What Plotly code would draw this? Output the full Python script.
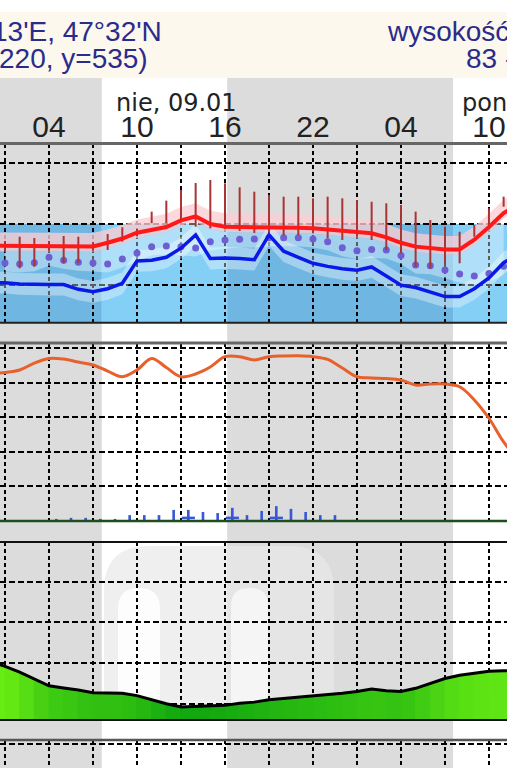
import plotly.graph_objects as go

W, H = 507, 768

def py(px):
    """pixel row -> paper fraction"""
    return 1 - px / H

def px_x(px):
    return px / W

# ---------------- data ----------------
# time axis: hours since 2022-01-09 00:00 (nie, 09.01)
x_range = [0.659, 35.23]
grid_hours = [1, 4, 7, 10, 13, 16, 19, 22, 25, 28, 31, 34]
tick_text = ['', '04', '', '10', '', '16', '', '22', '', '04', '', '10']
sunrise = [7.6, 31.55]
sunset = [16.15]

hours = list(range(0, 37))
temp = [-1.8, -1.8, -1.8, -1.8, -1.8, -1.8, -1.82, -1.85, -1.55, -1.2, -0.72, -0.5,
        -0.25, 0.3, 0.62, 0.0, -0.22, -0.25, -0.25, -0.3, -0.3, -0.3, -0.35, -0.45,
        -0.55, -0.62, -0.77, -1.1, -1.55, -1.87, -2.0, -2.1, -2.1, -1.3, -0.25, 0.9, 1.6]
dewpoint = [-4.85, -4.85, -4.95, -5.0, -5.0, -5.0, -5.4, -5.6, -5.35, -4.9, -3.05, -3.0,
            -2.75, -2.0, -0.9, -2.85, -2.8, -2.85, -2.95, -0.9, -2.25, -2.75, -3.25, -3.5,
            -3.7, -3.82, -3.55, -4.3, -5.05, -5.25, -5.6, -6.0, -6.0, -5.35, -4.45, -3.2, -2.5]
dot_hours = list(range(1, 36))
dots = [-3.22, -3.3, -3.2, -2.75, -3.0, -3.17, -3.22, -3.3, -2.9, -2.4, -1.88, -1.82,
        -1.88, -1.98, -1.46, -1.32, -1.26, -1.24, -1.13, -1.13, -1.13, -1.24, -1.46, -1.96,
        -2.2, -2.1, -2.15, -2.6, -3.39, -3.45, -3.8, -4.13, -4.3, -4.1, -3.5]
bar_hours = list(range(1, 36))
bar_low = [-2.3, -3.66, -3.53, -2.2, -3.25, -3.2, -2.2, -2.15, -1.46, -1.0, 0.06, 0.06,
           0.33, -0.22, -0.36, -0.36, -0.58, -0.74, -0.77, -0.91, -0.91, -0.77, -1.18, -1.32,
           -1.05, -1.32, -2.15, -2.42, -3.53, -3.66, -3.25, -3.25, -1.05, -0.08, 1.43]
bar_high = [-1.4, -1.05, -1.16, -1.4, -0.99, -1.05, -1.5, -0.83, -0.27, -0.4, 1.02, 1.93,
            2.81, 3.39, 3.64, 3.36, 3.03, 2.67, 2.4, 2.26, 2.26, 2.12, 2.26, 2.12,
            1.98, 1.84, 1.71, 1.57, 1.02, 0.33, -0.22, -0.64, -0.08, 1.3, 2.26]

pressure = [1028.52, 1028.58, 1028.73, 1029.13, 1029.4, 1029.36, 1029.19, 1029.02, 1028.67,
            1028.34, 1028.73, 1029.4, 1028.87, 1028.34, 1028.5, 1028.9, 1029.5, 1029.5,
            1029.31, 1029.5, 1029.54, 1029.55, 1029.5, 1029.34, 1028.84, 1028.34, 1028.27,
            1028.24, 1028.15, 1027.86, 1027.92, 1027.92, 1027.76, 1027.0, 1025.94, 1024.57,
            1023.5]
precip_hours = [4.5, 5.5, 6.5, 7.5, 8.5, 9.5, 10.5, 11.5, 12.5, 13.5, 14.5, 15.5, 16.5,
                17.5, 18.5, 19.5, 20.5, 21.5, 22.5, 23.5]
precip = [0.06, 0.09, 0.09, 0.06, 0.06, 0.17, 0.17, 0.17, 0.32, 0.32, 0.26, 0.23, 0.38,
          0.17, 0.29, 0.43, 0.35, 0.26, 0.17, 0.17]
snow_hours = [13.5, 16.5, 19.5]
snow = [0.09, 0.09, 0.09]

wind = [7.2, 6.6, 5.9, 5.0, 4.2, 3.95, 3.7, 3.35, 3.35, 3.3, 3.0, 2.5, 2.0, 1.6, 1.65,
        1.7, 1.8, 2.05, 2.2, 2.5, 2.65, 2.8, 3.0, 3.1, 3.3, 3.5, 3.8, 3.6, 3.5, 3.9, 4.5,
        5.1, 5.5, 5.75, 6.0, 6.05, 6.05]

header_left = ["13'E, 47°32'N", "220, y=535)"]
header_right = ["wysokość", "83 -"]
day_labels = ["nie, 09.01", "pon, 10.01"]

# ---------------- styling helpers ----------------
NIGHT = '#dcdcdc'
BLUE_NIGHT = '#70b6e3'
BLUE_DAY = '#84cff6'
GRID = dict(showgrid=True, gridcolor='black', gridwidth=2, zeroline=False,
            showticklabels=False, ticks='', showline=False, fixedrange=True,
            automargin=False)

fig = go.Figure()

# ----- panel 1: temperature -----
lo_band = [d - 0.7 for d in dots]
t_at_dots = [temp[h] - 0.45 for h in dot_hours]
fig.add_trace(go.Scatter(x=dot_hours, y=t_at_dots, mode='lines', line=dict(width=0),
                         hoverinfo='skip', showlegend=False, yaxis='y'))
fig.add_trace(go.Scatter(x=dot_hours, y=lo_band, mode='lines', line=dict(width=0),
                         fill='tonexty', fillcolor='rgba(255,255,255,0.36)',
                         hoverinfo='skip', showlegend=False, yaxis='y'))
fig.add_trace(go.Scatter(x=hours, y=[t + 1.1 for t in temp], mode='lines', line=dict(width=0),
                         hoverinfo='skip', showlegend=False, yaxis='y'))
fig.add_trace(go.Scatter(x=hours, y=[t - 0.45 for t in temp], mode='lines', line=dict(width=0),
                         fill='tonexty', fillcolor='rgba(253,205,210,0.78)',
                         hoverinfo='skip', showlegend=False, yaxis='y'))
fig.add_trace(go.Scatter(x=hours, y=[d + 0.9 for d in dewpoint], mode='lines', line=dict(width=0),
                         hoverinfo='skip', showlegend=False, yaxis='y'))
fig.add_trace(go.Scatter(x=hours, y=[d - 0.9 for d in dewpoint], mode='lines', line=dict(width=0),
                         fill='tonexty', fillcolor='rgba(255,255,255,0.36)',
                         hoverinfo='skip', showlegend=False, yaxis='y'))
fig.add_trace(go.Scatter(x=dot_hours, y=dots, mode='markers',
                         marker=dict(size=7, color='#6e5ed2'),
                         showlegend=False, yaxis='y'))
bx, byy = [], []
for h, lo, hi in zip(bar_hours, bar_low, bar_high):
    bx += [h, h, None]
    byy += [lo, hi, None]
fig.add_trace(go.Scatter(x=bx, y=byy, mode='lines', line=dict(color='#a83434', width=2),
                         showlegend=False, yaxis='y'))
fig.add_trace(go.Scatter(x=hours, y=dewpoint, mode='lines', line=dict(color='#0a18e8', width=3.5),
                         showlegend=False, yaxis='y'))
fig.add_trace(go.Scatter(x=hours, y=temp, mode='lines', line=dict(color='#ff1818', width=4),
                         showlegend=False, yaxis='y'))

# ----- panel 2: pressure + precipitation -----
fig.add_trace(go.Bar(x=precip_hours, y=precip, width=0.18, marker=dict(color='#3858d8', line=dict(width=0)),
                     showlegend=False, yaxis='y5'))
sx, sy = [], []
for h, v in zip(snow_hours, snow):
    sx += [h - 0.45, h + 0.45, None]
    sy += [v, v, None]
fig.add_trace(go.Scatter(x=sx, y=sy, mode='lines', line=dict(color='#3858d8', width=2.5),
                         showlegend=False, yaxis='y5'))
fig.add_trace(go.Scatter(x=hours, y=pressure, mode='lines', line=dict(color='#e8602c', width=3),
                         line_shape='spline', showlegend=False, yaxis='y2'))

# ----- panel 3: wind -----
def green(v):
    t = max(0.0, min(1.0, (v - 1.5) / 5.0))
    c0, c1 = (16, 166, 16), (104, 236, 20)
    return 'rgb(%d,%d,%d)' % tuple(round(a + (b - a) * t) for a, b in zip(c0, c1))

for i in range(len(hours) - 1):
    v = (wind[i] + wind[i + 1]) / 2
    col = green(v)
    fig.add_trace(go.Scatter(x=[hours[i], hours[i], hours[i + 1], hours[i + 1]],
                             y=[0, wind[i], wind[i + 1], 0], mode='lines',
                             line=dict(width=1, color=col),
                             fill='toself', fillcolor=col, hoverinfo='skip',
                             showlegend=False, yaxis='y3'))
fig.add_trace(go.Scatter(x=hours, y=wind, mode='lines', line=dict(color='black', width=3),
                         showlegend=False, yaxis='y3'))

# ---------------- shapes ----------------
shapes = []
shapes.append(dict(type='rect', xref='paper', yref='paper', x0=0, x1=1, y0=py(78), y1=py(12),
                   fillcolor='#fcf8ee', line=dict(width=0), layer='below'))
nights = [(-2, sunrise[0]), (sunset[0], sunrise[1])]
for a, b in nights:
    shapes.append(dict(type='rect', xref='x', yref='paper', x0=a, x1=b, y0=0, y1=py(78),
                       fillcolor=NIGHT, line=dict(width=0), layer='below'))

# faint watermark behind the wind panel
def arch(x0, x1, ytop, ybot, r):
    return ('M %f,%f L %f,%f Q %f,%f %f,%f L %f,%f Q %f,%f %f,%f L %f,%f Z' % (
        px_x(x0), py(ybot), px_x(x0), py(ytop + r), px_x(x0), py(ytop), px_x(x0 + r), py(ytop),
        px_x(x1 - r), py(ytop), px_x(x1), py(ytop), px_x(x1), py(ytop + r), px_x(x1), py(ybot)))

shapes.append(dict(type='path', xref='paper', yref='paper', path=arch(104, 334, 546, 720, 45),
                   fillcolor='#e8e8e8', opacity=0.7, line=dict(width=0), layer='below'))
shapes.append(dict(type='path', xref='paper', yref='paper', path=arch(118, 160, 588, 720, 21),
                   fillcolor='white', opacity=0.85, line=dict(width=0), layer='below'))
shapes.append(dict(type='path', xref='paper', yref='paper', path=arch(231, 268, 588, 720, 18),
                   fillcolor='white', opacity=0.6, line=dict(width=0), layer='below'))

bounds = [-2, sunrise[0], sunset[0], sunrise[1], 40]
for i in range(len(bounds) - 1):
    shapes.append(dict(type='rect', xref='x', yref='y', x0=bounds[i], x1=bounds[i + 1],
                       y0=-8.18, y1=0, fillcolor=BLUE_NIGHT if i % 2 == 0 else BLUE_DAY,
                       line=dict(width=0), layer='below'))
for ypx, col, wd in [(143.5, '#666666', 3), (322.8, '#222222', 2), (343, '#666666', 3),
                     (521, '#1e4e1e', 2.5), (542, '#111111', 2), (720, '#111111', 2),
                     (740, '#555555', 2.5)]:
    shapes.append(dict(type='line', xref='paper', yref='paper', x0=0, x1=1, y0=py(ypx), y1=py(ypx),
                       line=dict(color=col, width=wd), layer='above'))
fig.update_layout(shapes=shapes)

# ---------------- annotations ----------------
ann = []
NAVY = '#2b2b8c'
ann.append(dict(text=header_left[0], xref='paper', yref='paper', x=-10 / W, y=py(32),
                xanchor='left', yanchor='middle', showarrow=False,
                font=dict(family='Liberation Sans', size=28, color=NAVY)))
ann.append(dict(text=header_left[1], xref='paper', yref='paper', x=-3 / W, y=py(59),
                xanchor='left', yanchor='middle', showarrow=False,
                font=dict(family='Liberation Sans', size=28, color=NAVY)))
ann.append(dict(text=header_right[0], xref='paper', yref='paper', x=385 / W, y=py(31),
                xanchor='left', yanchor='middle', showarrow=False,
                font=dict(family='Liberation Sans', size=28, color=NAVY)))
ann.append(dict(text=header_right[1], xref='paper', yref='paper', x=464 / W, y=py(59),
                xanchor='left', yanchor='middle', showarrow=False,
                font=dict(family='Liberation Sans', size=28, color=NAVY)))
ann.append(dict(text=day_labels[0], xref='paper', yref='paper', x=114 / W, y=py(103),
                xanchor='left', yanchor='middle', showarrow=False,
                font=dict(family='DejaVu Sans', size=24, color='#222222')))
ann.append(dict(text=day_labels[1], xref='paper', yref='paper', x=460 / W, y=py(103),
                xanchor='left', yanchor='middle', showarrow=False,
                font=dict(family='DejaVu Sans', size=24, color='#222222')))
fig.update_layout(annotations=ann)

# ---------------- axes ----------------
fig.update_layout(
    width=W, height=H, margin=dict(l=0, r=0, t=0, b=0, autoexpand=False),
    paper_bgcolor='white', plot_bgcolor='rgba(0,0,0,0)', showlegend=False,
    xaxis=dict(range=x_range, domain=[0, 1], anchor='y', side='top',
               tickmode='array', tickvals=grid_hours, ticktext=tick_text,
               showgrid=True, gridcolor='black', gridwidth=2, griddash='4px,3px',
               zeroline=False, showline=False, ticks='', showticklabels=True,
               tickfont=dict(family='Liberation Sans', size=30, color='#222222'),
               fixedrange=True, automargin=False),
    yaxis=dict(domain=[py(323), py(144)], range=[-8.18, 6.61], tickmode='array',
               tickvals=[-5, 0, 5], griddash='6px,3px', **GRID),
    yaxis2=dict(domain=[py(521), py(343)], range=[1020.0, 1030.29], tickmode='array',
                tickvals=[1022, 1024, 1026, 1028, 1030], griddash='6px,3px', anchor='x', **GRID),
    yaxis5=dict(overlaying='y2', range=[0, 5.14], showgrid=False, zeroline=False,
                showticklabels=False, ticks='', fixedrange=True, automargin=False),
    yaxis3=dict(domain=[py(720), py(542)], range=[0, 21.9], tickmode='array',
                tickvals=[2, 7, 12, 17], griddash='6px,3px', anchor='x', **GRID),
    yaxis4=dict(domain=[0, py(740)], range=[0, 1], tickmode='array',
                tickvals=[0.86], griddash='6px,3px', anchor='x', **GRID),
)
# make panel 4 exist
fig.add_trace(go.Scatter(x=[x_range[0]], y=[-1], mode='markers', marker=dict(size=1, opacity=0),
                         showlegend=False, yaxis='y4', hoverinfo='skip'))

fig.write_html("out.html", config={'displayModeBar': False},
               post_script="document.body.style.margin='0';document.body.style.overflow='hidden';")
